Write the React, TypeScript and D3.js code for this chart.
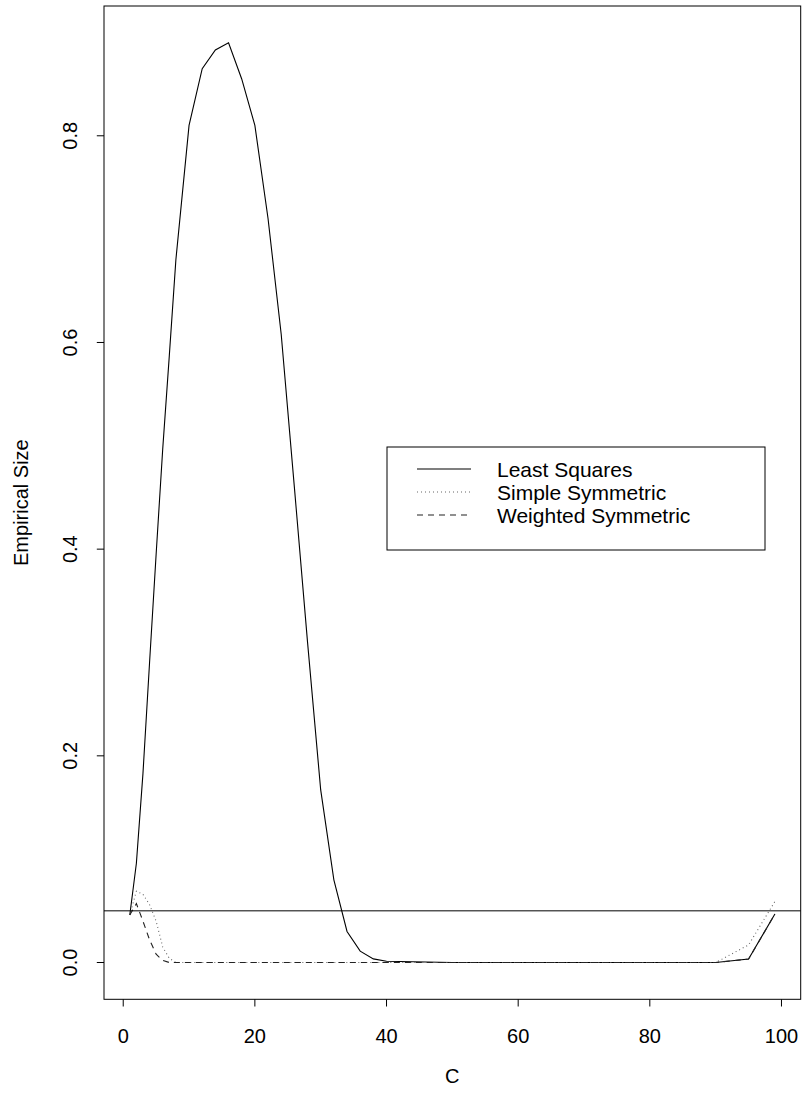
import React from "react";
import * as d3 from "d3";

const C = [1, 2, 3, 4, 5, 6, 7, 8, 10, 12, 14, 16, 18, 20, 22, 24, 26, 28, 30, 32, 34, 36, 38, 40, 50, 60, 70, 80, 90, 95, 99];
const leastSquares = [0.046, 0.096, 0.183, 0.29, 0.395, 0.497, 0.587, 0.68, 0.81, 0.865, 0.883, 0.89, 0.855, 0.81, 0.72, 0.608, 0.46, 0.31, 0.167, 0.08, 0.03, 0.011, 0.0035, 0.0012, 0, 0, 0, 0, 0, 0.0033, 0.047];
const simpleSymmetric = [0.046, 0.069, 0.066, 0.056, 0.04, 0.015, 0.004, 0, 0, 0, 0, 0, 0, 0, 0, 0, 0, 0, 0, 0, 0, 0, 0, 0, 0, 0, 0, 0, 0, 0.017, 0.059];
const weightedSymmetric = [0.046, 0.057, 0.04, 0.022, 0.008, 0.002, 0, 0, 0, 0, 0, 0, 0, 0, 0, 0, 0, 0, 0, 0, 0, 0, 0, 0, 0, 0, 0, 0, 0, 0.0033, 0.047];
const xTicks = [0, 20, 40, 60, 80, 100];
const yTicks = [0, 0.2, 0.4, 0.6, 0.8];
const refLevel = 0.05;
const seriesNames = ["Least Squares", "Simple Symmetric", "Weighted Symmetric"];

const W = 806, H = 1100;
const L = 104, R = 800.7, T = 6, B = 999.3;
const FONT = "'Liberation Sans', Arial, Helvetica, sans-serif";

export default function App() {
  const x = d3.scaleLinear().domain([-2.92, 102.92]).range([L, R]);
  const y = d3.scaleLinear().domain([-0.0356, 0.9256]).range([B, T]);
  const line = (vals: number[]) =>
    d3.line<number>().x((_, i) => x(C[i])).y((v) => y(v))(vals) || "";
  const dashes = [null, "1,3", "6,5"];
  const strokes = ["#000", "#666", "#222"];
  const series = [leastSquares, simpleSymmetric, weightedSymmetric];

  const legX = 387, legY = 447, legW = 378, legH = 103;
  const rowY = [469, 492, 515];

  return (
    <svg width={W} height={H} style={{ position: "absolute", left: 0, top: 0, background: "#fff" }} fontFamily={FONT}>
      <rect x={0} y={0} width={W} height={H} fill="#fff" />
      {series.map((s, i) => (
        <path key={i} d={line(s)} fill="none" stroke={strokes[i]} strokeWidth={1.1}
          strokeDasharray={dashes[i] || undefined} />
      ))}
      <line x1={L} x2={R} y1={y(refLevel)} y2={y(refLevel)} stroke="#000" strokeWidth={1} />
      <rect x={L} y={T} width={R - L} height={B - T} fill="none" stroke="#000" strokeWidth={1} />
      {xTicks.map((t) => (
        <g key={t}>
          <line x1={x(t)} x2={x(t)} y1={B} y2={B + 7.2} stroke="#000" />
          <text x={x(t)} y={1043} fontSize={20} textAnchor="middle">{t}</text>
        </g>
      ))}
      {yTicks.map((t) => (
        <g key={t}>
          <line x1={L} x2={L - 7.2} y1={y(t)} y2={y(t)} stroke="#000" />
          <text transform={`translate(77,${y(t)}) rotate(-90)`} fontSize={20} textAnchor="middle">{t.toFixed(1)}</text>
        </g>
      ))}
      <text x={(L + R) / 2} y={1083} fontSize={20} textAnchor="middle">C</text>
      <text transform={`translate(28,${(T + B) / 2}) rotate(-90)`} fontSize={20} textAnchor="middle">Empirical Size</text>
      <rect x={legX} y={legY} width={legW} height={legH} fill="#fff" stroke="#000" strokeWidth={1} />
      {seriesNames.map((n, i) => (
        <g key={n}>
          <line x1={417} x2={471} y1={rowY[i]} y2={rowY[i]} stroke={strokes[i]} strokeWidth={1.1}
            strokeDasharray={dashes[i] || undefined} />
          <text x={497} y={rowY[i] + 7.5} fontSize={21}>{n}</text>
        </g>
      ))}
    </svg>
  );
}
